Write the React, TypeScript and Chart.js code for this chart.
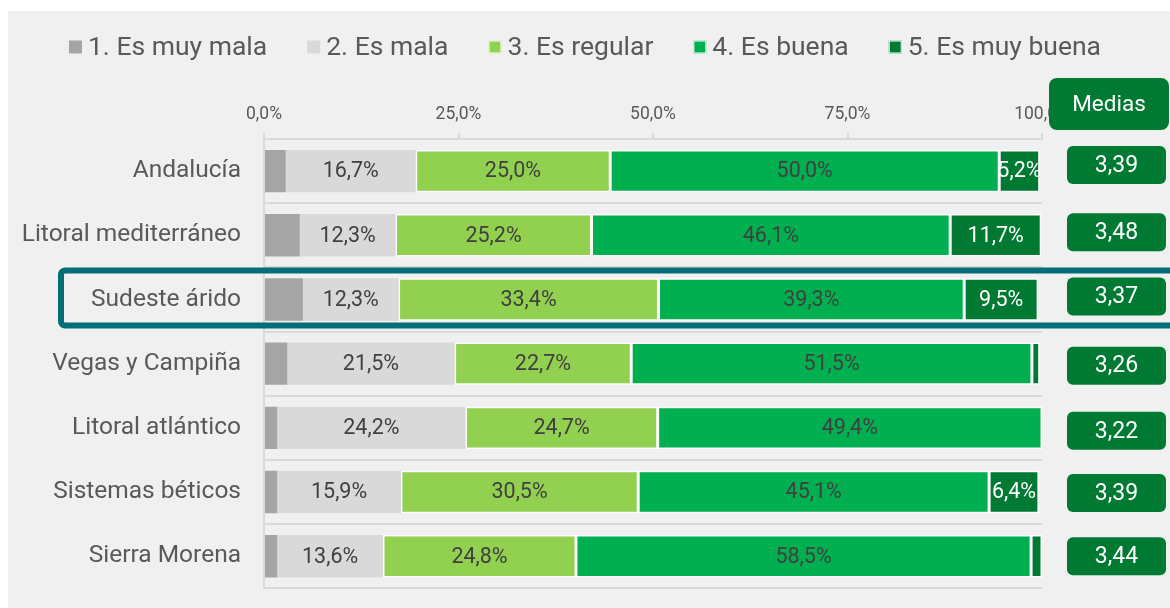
import React, { useEffect, useRef } from "react";
import { Chart, registerables } from "chart.js";

Chart.register(...registerables);

// ---------- data ----------
const categories = [
  "Andalucía",
  "Litoral mediterráneo",
  "Sudeste árido",
  "Vegas y Campiña",
  "Litoral atlántico",
  "Sistemas béticos",
  "Sierra Morena",
];
const seriesNames = ["1. Es muy mala", "2. Es mala", "3. Es regular", "4. Es buena", "5. Es muy buena"];
const esMuyMala = [2.8, 4.6, 5.0, 3.0, 1.7, 1.7, 1.7];
const esMala = [16.7, 12.3, 12.3, 21.5, 24.2, 15.9, 13.6];
const esRegular = [25.0, 25.2, 33.4, 22.7, 24.7, 30.5, 24.8];
const esBuena = [50.0, 46.1, 39.3, 51.5, 49.4, 45.1, 58.5];
const esMuyBuena = [5.2, 11.7, 9.5, 1.0, 0.0, 6.4, 1.4];
const medias = [3.39, 3.48, 3.37, 3.26, 3.22, 3.39, 3.44];
const xTickValues = [0, 25, 50, 75, 100];
const mediasTitle = "Medias";
const highlightCategory = "Sudeste árido";

// ---------- style ----------
const FONT = "Roboto, 'DejaVu Sans', sans-serif";
const seriesColors = ["#a5a5a5", "#d9d9d9", "#92d050", "#00b050", "#007a33"];
const seriesBorders = [0, 0, 1.5, 1.5, 1.5];
const labelColors = ["#404040", "#404040", "#404040", "#404040", "#ffffff"];
const TEXT = "#595959";
const DARK_GREEN = "#007a33";
const TEAL = "#026f77";
const mediaNudge = [-6, -3, -3, 2, 3, 1, 0];

const fmt = (v: number, d: number) => v.toFixed(d).replace(".", ",");

const legendPlugin = {
  id: "customLegend",
  afterDraw(chart: any) {
    const ctx = chart.ctx;
    ctx.save();
    ctx.font = `26.5px ${FONT}`;
    const box = 13;
    const gapText = 6;
    const gapItem = 40;
    const items = chart.data.datasets.map((ds: any) => ({
      text: ds.label as string,
      color: ds.backgroundColor as string,
      outline: ds.borderWidth > 0,
    }));
    const widths = items.map((it: any) => box + gapText + ctx.measureText(it.text).width);
    const total = widths.reduce((a: number, b: number) => a + b, 0) + gapItem * (items.length - 1);
    let x = 577 - total / 2;
    const cy = 36;
    items.forEach((it: any, i: number) => {
      ctx.fillStyle = it.color;
      ctx.fillRect(x, cy - box / 2, box, box);
      if (it.outline) {
        ctx.strokeStyle = "#ffffff";
        ctx.lineWidth = 1;
        ctx.strokeRect(x + 0.5, cy - box / 2 + 0.5, box - 1, box - 1);
      }
      ctx.fillStyle = TEXT;
      ctx.textAlign = "left";
      ctx.textBaseline = "middle";
      ctx.fillText(it.text, x + box + gapText, cy + 1);
      x += widths[i] + gapItem;
    });
    ctx.restore();
  },
};

const highlightPlugin = {
  id: "highlightRow",
  afterDatasetsDraw(chart: any) {
    const idx = categories.indexOf(highlightCategory);
    if (idx < 0) return;
    const yScale = chart.scales.y;
    const yc = yScale.getPixelForValue(idx);
    const ctx = chart.ctx;
    ctx.save();
    ctx.strokeStyle = TEAL;
    ctx.lineWidth = 6;
    ctx.beginPath();
    ctx.roundRect(53, yc - 29, chart.width - 53 + 30, 55, 4);
    ctx.stroke();
    ctx.restore();
  },
};

const barLabelPlugin = {
  id: "barLabels",
  afterDatasetsDraw(chart: any) {
    const ctx = chart.ctx;
    chart.data.datasets.forEach((ds: any, di: number) => {
      if (di === 0) return;
      const meta = chart.getDatasetMeta(di);
      meta.data.forEach((bar: any, i: number) => {
        const v = ds.data[i] as number;
        if (v < 5) return;
        const p = bar.getProps(["x", "base", "y", "height"], true);
        const left = Math.min(p.x, p.base);
        const right = Math.max(p.x, p.base);
        ctx.save();
        ctx.beginPath();
        ctx.rect(left, p.y - p.height / 2, right - left, p.height);
        ctx.clip();
        ctx.fillStyle = labelColors[di];
        ctx.font = `21.5px ${FONT}`;
        ctx.textAlign = "center";
        ctx.textBaseline = "middle";
        ctx.fillText(fmt(v, 1) + "%", (left + right) / 2, p.y + 1);
        ctx.restore();
      });
    });
  },
};

const mediasPlugin = {
  id: "mediasBoxes",
  afterDraw(chart: any) {
    const ctx = chart.ctx;
    const yScale = chart.scales.y;
    ctx.save();
    // header
    ctx.fillStyle = DARK_GREEN;
    ctx.beginPath();
    ctx.roundRect(1041, 67, 120, 52, 8);
    ctx.fill();
    ctx.fillStyle = "#ffffff";
    ctx.font = `22.5px ${FONT}`;
    ctx.textAlign = "center";
    ctx.textBaseline = "middle";
    ctx.fillText(mediasTitle, 1101, 94);
    ctx.font = `23px ${FONT}`;
    medias.forEach((m, i) => {
      const yc = yScale.getPixelForValue(i) + (mediaNudge[i] || 0);
      ctx.fillStyle = DARK_GREEN;
      ctx.beginPath();
      ctx.roundRect(1059, yc - 19, 99, 38, 6);
      ctx.fill();
      ctx.fillStyle = "#ffffff";
      ctx.fillText(fmt(m, 2), 1108.5, yc + 1);
    });
    ctx.restore();
  },
};

export default function App() {
  const canvasRef = useRef<HTMLCanvasElement | null>(null);

  useEffect(() => {
    const canvas = canvasRef.current;
    if (!canvas) return;
    const seriesData = [esMuyMala, esMala, esRegular, esBuena, esMuyBuena];
    const chart = new Chart(canvas, {
      type: "bar",
      data: {
        labels: categories,
        datasets: seriesNames.map((name, i) => ({
          label: name,
          data: seriesData[i],
          backgroundColor: seriesColors[i],
          borderColor: "#ffffff",
          borderWidth: seriesBorders[i],
          borderSkipped: false,
          barPercentage: 0.66,
          categoryPercentage: 1,
        })),
      },
      options: {
        indexAxis: "y",
        responsive: false,
        animation: false,
        devicePixelRatio: 1,
        layout: { padding: { top: 0, right: 128, bottom: 7, left: 0 } },
        plugins: {
          legend: { display: false },
          tooltip: { enabled: false },
        },
        scales: {
          x: {
            position: "top",
            stacked: true,
            min: 0,
            max: 100,
            afterBuildTicks: (s: any) => {
              s.ticks = xTickValues.map((v) => ({ value: v }));
            },
            afterFit: (s: any) => {
              s.height = 128;
            },
            ticks: {
              autoSkip: false,
              maxRotation: 0,
              padding: 8,
              color: TEXT,
              font: { family: FONT, size: 17.5 },
              callback: (v: any) => fmt(Number(v), 1) + "%",
            },
            grid: {
              drawOnChartArea: false,
              drawTicks: true,
              tickLength: 6,
              color: "#d9d9d9",
              lineWidth: 2,
            },
            border: { display: true, color: "#d9d9d9", width: 2 },
          },
          y: {
            stacked: true,
            afterFit: (s: any) => {
              s.width = 256;
            },
            ticks: {
              padding: 23,
              color: TEXT,
              font: { family: FONT, size: 24.5 },
            },
            grid: {
              offset: true,
              drawTicks: false,
              color: "#d9d9d9",
              lineWidth: 2,
            },
            border: { display: true, color: "#d9d9d9", width: 2 },
          },
        },
      } as any,
      plugins: [highlightPlugin, barLabelPlugin, mediasPlugin, legendPlugin],
    });
    return () => chart.destroy();
  }, []);

  return (
    <div
      style={{
        position: "fixed",
        left: 8,
        top: 11,
        width: 1162,
        height: 597,
        overflow: "hidden",
        background: "#f0f0f0",
      }}
    >
      <canvas ref={canvasRef} width={1162} height={615} style={{ display: "block" }} />
    </div>
  );
}
